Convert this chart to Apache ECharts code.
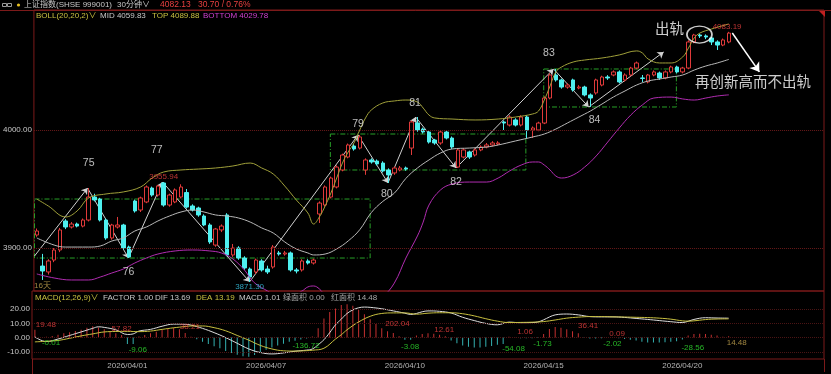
<!DOCTYPE html>
<html><head><meta charset="utf-8">
<script src="https://cdn.jsdelivr.net/npm/echarts@6/dist/echarts.min.js"></script>
<style>html,body{margin:0;padding:0;background:#000;}#c{width:831px;height:374px;}</style>
</head><body><div id="c"></div>
<script>
// ---------- data ----------
const opens = [
3911.0,3884.7,3879.7,3889.8,3898.3,3922.9,3917.8,3920.3,3918.6,3923.7,
3943.2,3941.5,3923.7,3908.5,3917.8,3919.5,3900.8,3939.8,3932.2,3939.0,
3950.8,3944.9,3955.1,3936.4,3939.0,3943.2,3947.0,3935.6,3933.9,3927.1,
3919.5,3902.5,3915.3,3928.0,3894.1,3900.0,3891.5,3882.2,3879.7,3889.0,
3882.2,3883.9,3895.8,3894.9,3895.8,3881.4,3881.4,3889.0,3887.3,3928.8,
3936.4,3943.2,3951.7,3966.1,3977.1,3986.4,3984.7,3966.1,3974.6,3973.7,
3972.0,3966.1,3963.6,3966.1,3967.8,3984.7,4005.9,4000.8,3998.3,3991.5,
3989.0,3998.3,3993.2,3968.6,3977.1,3981.4,3978.8,3983.1,3985.6,3987.3,
3988.1,4006.8,4004.2,4008.5,4004.2,4011.0,4000.0,4000.0,4005.9,4027.1,
4046.6,4042.4,4036.4,4042.4,4035.6,4036.4,4029.7,4031.4,4038.1,4044.9,
4046.6,4049.2,4042.4,4046.6,4052.5,4044.1,4040.7,4046.6,4048.3,4044.1,
4049.2,4053.4,4049.2,4052.5,4074.6,4080.5,4079.7,4078.0,4074.6,4072.0,
4074.6];
const closes = [
3914.4,3880.5,3889.0,3898.3,3915.3,3917.8,3920.3,3918.6,3923.7,3943.2,
3940.7,3923.7,3908.5,3919.5,3919.5,3900.0,3892.4,3931.4,3942.4,3951.7,
3944.9,3952.5,3936.4,3944.9,3949.2,3951.7,3934.7,3932.2,3928.0,3919.5,
3905.1,3916.1,3918.6,3894.1,3900.0,3891.5,3883.1,3875.4,3889.8,3881.4,
3879.7,3900.8,3894.9,3895.8,3881.4,3880.5,3889.0,3887.3,3889.8,3938.1,
3951.7,3959.3,3968.6,3978.8,3987.3,3983.9,3994.1,3974.6,3972.9,3971.2,
3965.3,3961.9,3967.8,3967.8,3966.9,4006.8,4000.0,3998.3,3989.8,3989.0,
3998.3,3993.2,3985.6,3983.1,3983.1,3977.1,3983.1,3985.6,3987.3,3989.0,
3989.0,4005.9,4011.0,4004.2,4011.0,4000.0,4001.7,4005.9,4027.1,4046.6,
4042.4,4036.4,4038.1,4033.9,4036.4,4029.7,4027.1,4042.4,4044.9,4044.1,
4049.2,4040.7,4046.6,4052.5,4056.8,4043.7,4046.6,4049.2,4044.1,4049.2,
4053.4,4049.2,4052.5,4074.6,4080.5,4079.7,4078.8,4074.6,4072.0,4076.3,
4082.13];
const lows = [
3909.5,3872.9,3877.5,3888.0,3896.5,3916.0,3916.5,3917.5,3917.5,3922.5,
3939.5,3922.5,3907.0,3907.0,3916.5,3898.5,3891.5,3930.0,3930.5,3938.0,
3943.5,3943.5,3935.0,3935.0,3938.0,3942.0,3933.5,3931.0,3926.5,3918.5,
3903.5,3901.0,3913.5,3893.0,3892.5,3890.0,3881.5,3871.3,3878.0,3880.0,
3878.0,3882.5,3893.5,3893.5,3880.0,3878.5,3880.0,3886.0,3886.0,3921.2,
3935.0,3942.0,3950.5,3965.0,3976.0,3982.5,3983.5,3962.0,3971.5,3970.0,
3964.0,3955.1,3962.0,3965.0,3965.5,3978.8,3998.5,3997.0,3988.5,3987.5,
3987.5,3992.0,3984.0,3967.8,3976.0,3975.5,3977.5,3982.0,3984.5,3986.0,
3987.0,4000.0,4003.0,4003.0,4003.0,3993.2,3993.2,3999.0,4005.0,4026.0,
4041.0,4035.0,4035.0,4032.5,4034.5,4028.5,4019.5,4030.0,4037.0,4042.5,
4045.5,4039.5,4041.0,4045.5,4051.5,4040.7,4039.5,4045.5,4042.5,4043.0,
4048.0,4048.0,4048.0,4051.5,4073.5,4078.0,4077.0,4072.0,4067.8,4071.0,
4073.5];
const highs = [
3916.5,3895.0,3890.5,3900.0,3917.0,3924.5,3922.0,3921.5,3925.0,3950.8,
3946.0,3942.5,3925.0,3920.5,3926.3,3920.5,3902.0,3941.0,3943.5,3953.0,
3952.0,3953.5,3955.94,3946.0,3950.5,3954.0,3950.0,3937.0,3935.0,3928.5,
3921.0,3917.0,3920.0,3929.5,3903.4,3901.5,3893.0,3883.5,3891.0,3890.5,
3885.0,3902.5,3897.5,3897.5,3897.0,3883.0,3890.5,3890.5,3891.0,3939.5,
3953.0,3960.5,3970.0,3980.0,3988.5,3988.0,3995.8,3976.0,3976.0,3975.0,
3973.5,3967.5,3969.0,3969.5,3969.0,4008.0,4011.0,4002.0,3999.5,3992.5,
4000.0,3999.5,3994.5,3984.5,3984.5,3982.5,3984.5,3987.0,3989.0,3990.5,
3990.5,4008.0,4012.5,4010.0,4012.5,4012.5,4003.0,4007.0,4028.5,4048.0,
4051.7,4043.5,4039.5,4043.5,4038.0,4037.5,4031.0,4043.5,4046.0,4046.5,
4050.5,4050.5,4048.0,4053.5,4058.0,4046.6,4047.5,4050.5,4049.5,4050.5,
4054.5,4054.5,4053.5,4076.0,4081.5,4081.5,4081.0,4079.0,4076.0,4077.5,
4083.19];

// BOLL(20,20,2) lines, [bar, value] points
const bollTop = [[0,3941.5],[2,3935.6],[5,3926.3],[7,3931.4],[9,3942.4],[12,3945.8],[15,3947.5],[18,3951.7],[20,3959.3],[22,3964.4],[25,3966.1],[28,3966.9],[31,3967.8],[34,3969.5],[37,3972.0],[39,3967.8],[41,3962.7],[43,3952.5],[45,3940.7],[47,3929.7],[48,3920.3],[49,3926.3],[50,3935.6],[51,3946.6],[52,3959.3],[53,3972.0],[54,3981.4],[55,3989.0],[56,4000.0],[57,4010.2],[58,4016.9],[60,4022.9],[62,4024.6],[64,4025.4],[66,4023.7],[67,4018.6],[68,4012.7],[69,4010.2],[72,4009.3],[76,4008.5],[80,4009.3],[83,4011.0],[86,4013.6],[87,4016.1],[88,4025.4],[89,4037.3],[90,4049.2],[91,4053.4],[93,4057.6],[95,4059.3],[98,4061.0],[101,4063.6],[104,4067.0],[105,4065.3],[106,4060.2],[108,4056.8],[110,4056.8],[112,4061.9],[113,4069.5],[114,4078.0],[115,4082.2],[117,4085.6],[120,4089.88]];
const bollMid = [[0,3908.5],[3,3902.5],[5,3900.8],[9,3900.8],[11,3901.7],[13,3905.9],[15,3908.5],[17,3914.4],[19,3917.8],[21,3922.9],[23,3927.1],[25,3930.5],[27,3932.2],[29,3930.5],[31,3928.0],[33,3927.1],[35,3925.4],[37,3922.0],[39,3917.0],[41,3912.7],[43,3905.1],[45,3899.2],[47,3895.8],[48,3894.1],[50,3894.9],[52,3899.2],[54,3906.0],[56,3915.5],[58,3930.0],[60,3939.5],[62,3946.5],[64,3959.0],[66,3967.8],[68,3974.6],[70,3980.5],[72,3983.9],[75,3984.7],[78,3985.6],[80,3987.3],[83,3990.7],[86,3994.1],[88,3996.6],[90,4000.8],[92,4005.9],[94,4011.0],[96,4016.1],[98,4022.0],[100,4028.0],[102,4033.1],[104,4038.1],[106,4041.5],[108,4043.2],[110,4044.9],[112,4046.6],[114,4050.8],[116,4054.2],[118,4056.8],[120,4059.83]];
const bollBot = [[0,3878.0],[3,3874.6],[6,3872.9],[9,3872.9],[11,3875.4],[13,3878.8],[15,3882.2],[17,3887.3],[19,3891.5],[21,3894.9],[24,3897.5],[27,3898.3],[30,3897.5],[32,3895.8],[34,3890.7],[36,3881.4],[37,3874.6],[38,3869.5],[40,3863.6],[42,3858.5],[44,3859.3],[46,3863.6],[47,3867.0],[48,3867.8],[49,3865.3],[50,3859.3],[52,3845.8],[54,3840.7],[56,3843.2],[58,3850.8],[60,3858.5],[62,3870.3],[64,3891.5],[66,3910.2],[67,3922.0],[68,3936.4],[70,3949.2],[72,3954.2],[75,3955.9],[78,3955.9],[80,3959.3],[82,3965.3],[84,3970.3],[86,3972.9],[87,3972.9],[88,3970.3],[89,3966.1],[90,3961.0],[91,3959.3],[93,3961.9],[95,3968.6],[97,3978.0],[99,3989.8],[101,4001.7],[103,4012.7],[105,4021.2],[107,4027.1],[110,4027.9],[112,4026.3],[114,4025.4],[116,4027.1],[118,4028.8],[120,4029.78]];

// MACD(12,26,9)
const macdHist = [
5.6,-0.01,0.6,1.2,2.0,3.0,3.8,4.6,5.6,7.0,
8.0,7.2,5.8,4.2,3.0,1.8,-4.5,-4.56,0.8,1.8,
3.0,4.2,5.4,6.4,7.0,5.8,3.2,0.6,-1.2,-3.0,
-4.5,-6.1,-7.5,-9.5,-10.8,-12.0,-13.2,-13.5,-12.3,-10.3,
-8.5,-7.0,-5.6,-4.4,-3.0,-2.2,-1.4,-0.72,0.8,6.5,
13.5,18.0,20.5,23.0,23.5,22.5,19.5,16.5,13.0,9.5,
6.5,4.5,3.2,1.04,-1.5,-1.58,1.5,2.5,3.0,2.7,
2.0,0.91,-2.0,-4.0,-5.5,-6.5,-7.0,-7.0,-6.5,-6.0,
-5.0,-4.58,0.6,0.46,-0.4,-0.5,-0.5,-0.33,2.5,6.0,
7.5,7.0,5.8,4.5,3.11,-0.3,-0.6,-0.7,-0.42,0.05,
0.04,-0.5,-1.0,-1.5,-2.0,-3.0,-3.5,-3.5,-3.5,-3.2,
-3.0,-2.5,-1.36,1.5,2.5,2.8,2.6,2.0,1.5,0.57,
1.01];
const difLine = [[0,0.5],[2,-2.8],[4,-1.0],[6,1.5],[8,4.0],[10,6.5],[11,7.6],[12,7.2],[14,5.5],[16,2.2],[17,2.6],[18,4.6],[20,5.8],[22,8.0],[24,9.5],[26,9.4],[27,8.8],[29,6.5],[31,3.5],[33,0.0],[35,-4.0],[37,-8.0],[39,-10.5],[41,-11.5],[43,-10.8],[45,-9.6],[47,-8.8],[48,-8.0],[49,-5.0],[50,-1.5],[51,3.5],[52,9.0],[53,13.0],[54,17.0],[55,19.5],[56,21.0],[57,21.5],[58,21.3],[60,20.3],[62,18.8],[64,17.2],[65,16.3],[66,17.0],[67,18.2],[68,18.8],[70,18.5],[72,17.3],[74,14.3],[76,12.0],[78,10.0],[80,9.0],[82,10.9],[84,10.5],[86,10.6],[87,11.0],[88,12.5],[89,14.5],[90,16.0],[92,16.6],[94,16.0],[96,14.8],[98,14.6],[100,14.6],[102,14.2],[104,13.5],[106,12.8],[108,12.0],[110,11.2],[112,10.6],[113,11.5],[114,12.8],[116,14.0],[118,13.8],[120,13.69]];
const deaLine = [[0,-3.0],[2,-2.6],[4,-2.0],[6,-0.5],[8,1.2],[10,2.6],[12,4.0],[14,4.3],[16,4.4],[18,4.2],[20,4.6],[22,5.8],[24,6.9],[26,7.8],[27,8.2],[29,8.2],[31,7.0],[33,4.8],[35,1.5],[37,-1.8],[39,-5.5],[41,-8.0],[43,-9.3],[45,-9.5],[47,-9.2],[48,-8.9],[50,-7.5],[52,-1.0],[53,2.0],[54,5.5],[56,11.0],[58,15.0],[60,17.0],[62,17.4],[64,17.4],[66,16.5],[68,17.2],[70,17.5],[72,17.5],[74,16.8],[76,15.3],[78,13.3],[80,11.6],[82,10.6],[84,10.7],[86,10.85],[88,11.3],[90,12.4],[92,13.7],[94,14.4],[96,14.8],[98,14.8],[100,14.6],[102,14.5],[104,14.3],[106,14.1],[108,13.7],[110,13.0],[112,11.8],[113,11.6],[114,11.8],[116,12.7],[118,13.1],[120,13.19]];

// axis ticks
const dateTicks = {16:'2026/04/01', 40:'2026/04/07', 64:'2026/04/10', 88:'2026/04/15', 112:'2026/04/20'};
const mainTicks = [3900, 4000];
const macdTicks = [-10, 0, 10, 20];

// hand-drawn analysis marks (bar, price)
const swingPath = [[-0.4,3893.2],[8.8,3950.8],[15.9,3891.5],[21.8,3955.94],[36.9,3871.3],[55.7,3995.8],[60.9,3955.1],[65.7,4011.0],[72.7,3967.8],[89.6,4051.7],[95.7,4019.5],[108.7,4066.1]];
const boxes = [[-0.4,57.8,3891.5,3941.5],[50.9,84.8,3966.1,3996.6],[87.9,110.9,4019.5,4051.7]];
const bigArrow = [[120.6,4082.2],[125.3,4049.2]];
const ring = [114.9,4080.9];
const notes = [
  ['75',9.0,3972.0,'w'],['76',15.9,3879.7,'w'],['77',20.8,3983.1,'w'],['79',55.7,4005.1,'w'],
  ['80',60.7,3945.8,'w'],['81',65.6,4022.9,'w'],['82',72.7,3955.9,'w'],['83',88.8,4065.3,'w'],['84',96.7,4008.5,'w'],
  ['3955.94',22.0,3960.2,'r'],['3871.30',36.9,3867.1,'c'],['4083.19',119.7,4087.3,'r'],['16天',1.0,3867.9,'y'],
  ['出轨',109.7,4084.7,'big'],['再创新高而不出轨',124.2,4039.8,'big']
];
const macdNotes = [
  ['19.48',1.9,8.9,'r'],['-0.01',2.8,-3.6,'g'],['57.82',15.0,6.5,'r'],['-9.06',17.8,-8.7,'g'],
  ['38.21',26.8,7.7,'r'],['-136.72',46.9,-5.9,'g'],['202.04',62.7,9.4,'r'],['-3.08',64.9,-6.4,'g'],
  ['12.61',70.8,5.8,'r'],['-54.08',82.8,-8.0,'g'],['1.06',84.8,4.2,'r'],['-1.73',87.8,-4.7,'g'],
  ['36.41',95.7,8.2,'r'],['0.09',100.7,3.0,'r'],['-2.02',99.9,-4.7,'g'],['-28.56',113.8,-7.1,'g'],['14.48',121.4,-3.6,'y']
];

// ---------- chart ----------
const N = 137;
const cats = Array.from({length:N},(_,i)=>String(i));
const candles = opens.map((o,i)=>[o, closes[i], lows[i], highs[i]]);
const FF = "'Liberation Sans','Noto Sans CJK SC',sans-serif";
const RED='#e03a3a', CYAN='#4ef0f0', FRAME='#7c1a1a';
const noteColor = {w:'#e8e8e8', r:'#e84040', c:'#38c8e8', y:'#c8a850', g:'#30e030', big:'#ffffff'};

const legs = [];
for (let i=0;i<swingPath.length-1;i++) legs.push({coords:[swingPath[i], swingPath[i+1]]});
const boxLines = boxes.map(b=>({coords:[[b[0],b[3]],[b[1],b[3]],[b[1],b[2]],[b[0],b[2]],[b[0],b[3]]]}));

function txt(x,y,text,fill,size){
  return {type:'text', x:x, y:y, silent:true, style:{text:text, fill:fill, font:(size||8.5)+'px '+FF, verticalAlign:'middle'}};
}

const chart = echarts.init(document.getElementById('c'), null, {renderer:'canvas'});
chart.setOption({
  backgroundColor:'#000',
  animation:false,
  grid:[
    {left:32, top:10, width:792, height:281, show:true, borderColor:FRAME, borderWidth:1},
    {left:32, top:291, width:792, height:68, show:true, borderColor:FRAME, borderWidth:1}
  ],
  xAxis:[
    {type:'category', gridIndex:0, data:cats, boundaryGap:true, axisLine:{show:false}, axisTick:{show:false}, axisLabel:{show:false}, splitLine:{show:false}},
    {type:'value', gridIndex:0, min:-0.5, max:N-0.5, show:false},
    {type:'category', gridIndex:1, data:cats, boundaryGap:true, axisLine:{show:false}, axisTick:{show:false}, splitLine:{show:false},
      axisLabel:{interval:0, margin:3, color:'#b4b4b4', fontSize:8, fontFamily:FF, formatter:(v,i)=>dateTicks[i]||''}},
    {type:'value', gridIndex:1, min:-0.5, max:N-0.5, show:false}
  ],
  yAxis:[
    {type:'value', gridIndex:0, min:3863.56, max:4101.69, axisLine:{show:false}, axisTick:{show:false}, splitLine:{show:false},
      axisLabel:{customValues:mainTicks, formatter:v=>v.toFixed(2), color:'#c8c8c8', fontSize:8, fontFamily:FF, margin:2}},
    {type:'value', gridIndex:1, min:-15.07, max:32.82, axisLine:{show:false}, axisTick:{show:false}, splitLine:{show:false},
      axisLabel:{customValues:macdTicks, formatter:v=>v.toFixed(2), color:'#c8c8c8', fontSize:8, fontFamily:FF, margin:2}}
  ],
  series:[
    {type:'candlestick', xAxisIndex:0, yAxisIndex:0, data:candles, barWidth:4, silent:true,
      itemStyle:{color:'#000', color0:CYAN, borderColor:RED, borderColor0:CYAN, borderWidth:1},
      markLine:{silent:true, symbol:'none', label:{show:false}, lineStyle:{color:'#6a1a1a', type:'dotted', width:1},
        data:mainTicks.map(v=>({yAxis:v}))}},
    {type:'line', xAxisIndex:1, yAxisIndex:0, data:bollTop, smooth:0.4, showSymbol:false, silent:true, lineStyle:{color:'#a0a03a', width:1}},
    {type:'line', xAxisIndex:1, yAxisIndex:0, data:bollMid, smooth:0.4, showSymbol:false, silent:true, lineStyle:{color:'#b8b8b8', width:1}},
    {type:'line', xAxisIndex:1, yAxisIndex:0, data:bollBot, smooth:0.4, showSymbol:false, silent:true, lineStyle:{color:'#b02cb0', width:1}},
    {type:'lines', coordinateSystem:'cartesian2d', xAxisIndex:1, yAxisIndex:0, polyline:true, silent:true, data:boxLines,
      lineStyle:{color:'#28a028', width:1, type:[5,2,1,2], opacity:1}},
    {type:'lines', coordinateSystem:'cartesian2d', xAxisIndex:1, yAxisIndex:0, silent:true, data:legs,
      symbol:['none','arrow'], symbolSize:6, lineStyle:{color:'#d0d0d0', width:1, opacity:1}},
    {type:'lines', coordinateSystem:'cartesian2d', xAxisIndex:1, yAxisIndex:0, silent:true, data:[{coords:bigArrow}],
      symbol:['none','arrow'], symbolSize:9, lineStyle:{color:'#ffffff', width:1.5, opacity:1}},
    {type:'scatter', xAxisIndex:1, yAxisIndex:0, silent:true, data:[ring], symbol:'circle', symbolSize:[25,17],
      itemStyle:{color:'rgba(0,0,0,0)', borderColor:'#ffffff', borderWidth:1.5}, z:5},
    {type:'scatter', xAxisIndex:1, yAxisIndex:0, silent:true, symbolSize:1, itemStyle:{color:'rgba(0,0,0,0)'}, z:6,
      data:notes.map(n=>({value:[n[1],n[2]], label:{show:true, position:'inside', formatter:n[0], color:noteColor[n[3]],
        fontFamily:FF, fontSize:(n[3]==='big'?14.5:(n[3]==='w'?10.5:8))}}))},
    {type:'bar', xAxisIndex:2, yAxisIndex:1, data:macdHist, barWidth:1, silent:true,
      itemStyle:{color:p=>p.value>=0?'#c43030':'#34b0b0'},
      markLine:{silent:true, symbol:'none', label:{show:false}, lineStyle:{color:'#4a1414', type:'dotted', width:1},
        data:macdTicks.map(v=>({yAxis:v}))}},
    {type:'line', xAxisIndex:3, yAxisIndex:1, data:difLine, smooth:0.4, showSymbol:false, silent:true, lineStyle:{color:'#dcdcdc', width:1}},
    {type:'line', xAxisIndex:3, yAxisIndex:1, data:deaLine, smooth:0.4, showSymbol:false, silent:true, lineStyle:{color:'#c8c040', width:1}},
    {type:'scatter', xAxisIndex:3, yAxisIndex:1, silent:true, symbolSize:1, itemStyle:{color:'rgba(0,0,0,0)'}, z:6,
      data:macdNotes.map(n=>({value:[n[1],n[2]], label:{show:true, position:'inside', formatter:n[0], color:noteColor[n[3]], fontFamily:FF, fontSize:8}}))}
  ],
  graphic:[
    {type:'line', silent:true, shape:{x1:0,y1:10.5,x2:831,y2:10.5}, style:{stroke:FRAME, lineWidth:1}},
    {type:'line', silent:true, shape:{x1:32.5,y1:359,x2:32.5,y2:374}, style:{stroke:FRAME, lineWidth:1}},
    {type:'line', silent:true, shape:{x1:824.5,y1:359,x2:824.5,y2:372}, style:{stroke:FRAME, lineWidth:1}},
    {type:'polygon', silent:true, shape:{points:[[819,11],[825,11],[825,17]]}, style:{fill:'#c02020'}},
    {type:'rect', silent:true, shape:{x:2.5,y:3.5,width:4,height:3}, style:{fill:'none', stroke:'#9a9a9a', lineWidth:1}},
    {type:'rect', silent:true, shape:{x:7.5,y:3.5,width:4,height:3}, style:{fill:'none', stroke:'#9a9a9a', lineWidth:1}},
    {type:'circle', silent:true, shape:{cx:18.5,cy:5,r:1.6}, style:{fill:'#e8c020'}},
    txt(24,5,'上证指数(SHSE 999001)','#c8c8c8',8),
    txt(117,5,'30分钟∨','#c8c8c8',8),
    txt(160,5,'4082.13','#e84040',8.5),
    txt(198,5,'30.70 / 0.76%','#e84040',8.5),
    txt(36,16,'BOLL(20,20,2)∨','#c8c040',8),
    txt(100,16,'MID 4059.83','#c8c8c8',8),
    txt(152,16,'TOP 4089.88','#c8c040',8),
    txt(203,16,'BOTTOM 4029.78','#d040d0',8),
    txt(35,298,'MACD(12,26,9)∨','#c8c040',8),
    txt(103,298,'FACTOR 1.00','#c8c8c8',8),
    txt(155,298,'DIF 13.69','#c8c8c8',8),
    txt(196,298,'DEA 13.19','#c8c040',8),
    txt(239,298,'MACD 1.01','#c8c8c8',8),
    txt(283,298,'绿面积 0.00','#a8a8a8',8),
    txt(331,298,'红面积 14.48','#a8a8a8',8)
  ]
});
</script></body></html>
